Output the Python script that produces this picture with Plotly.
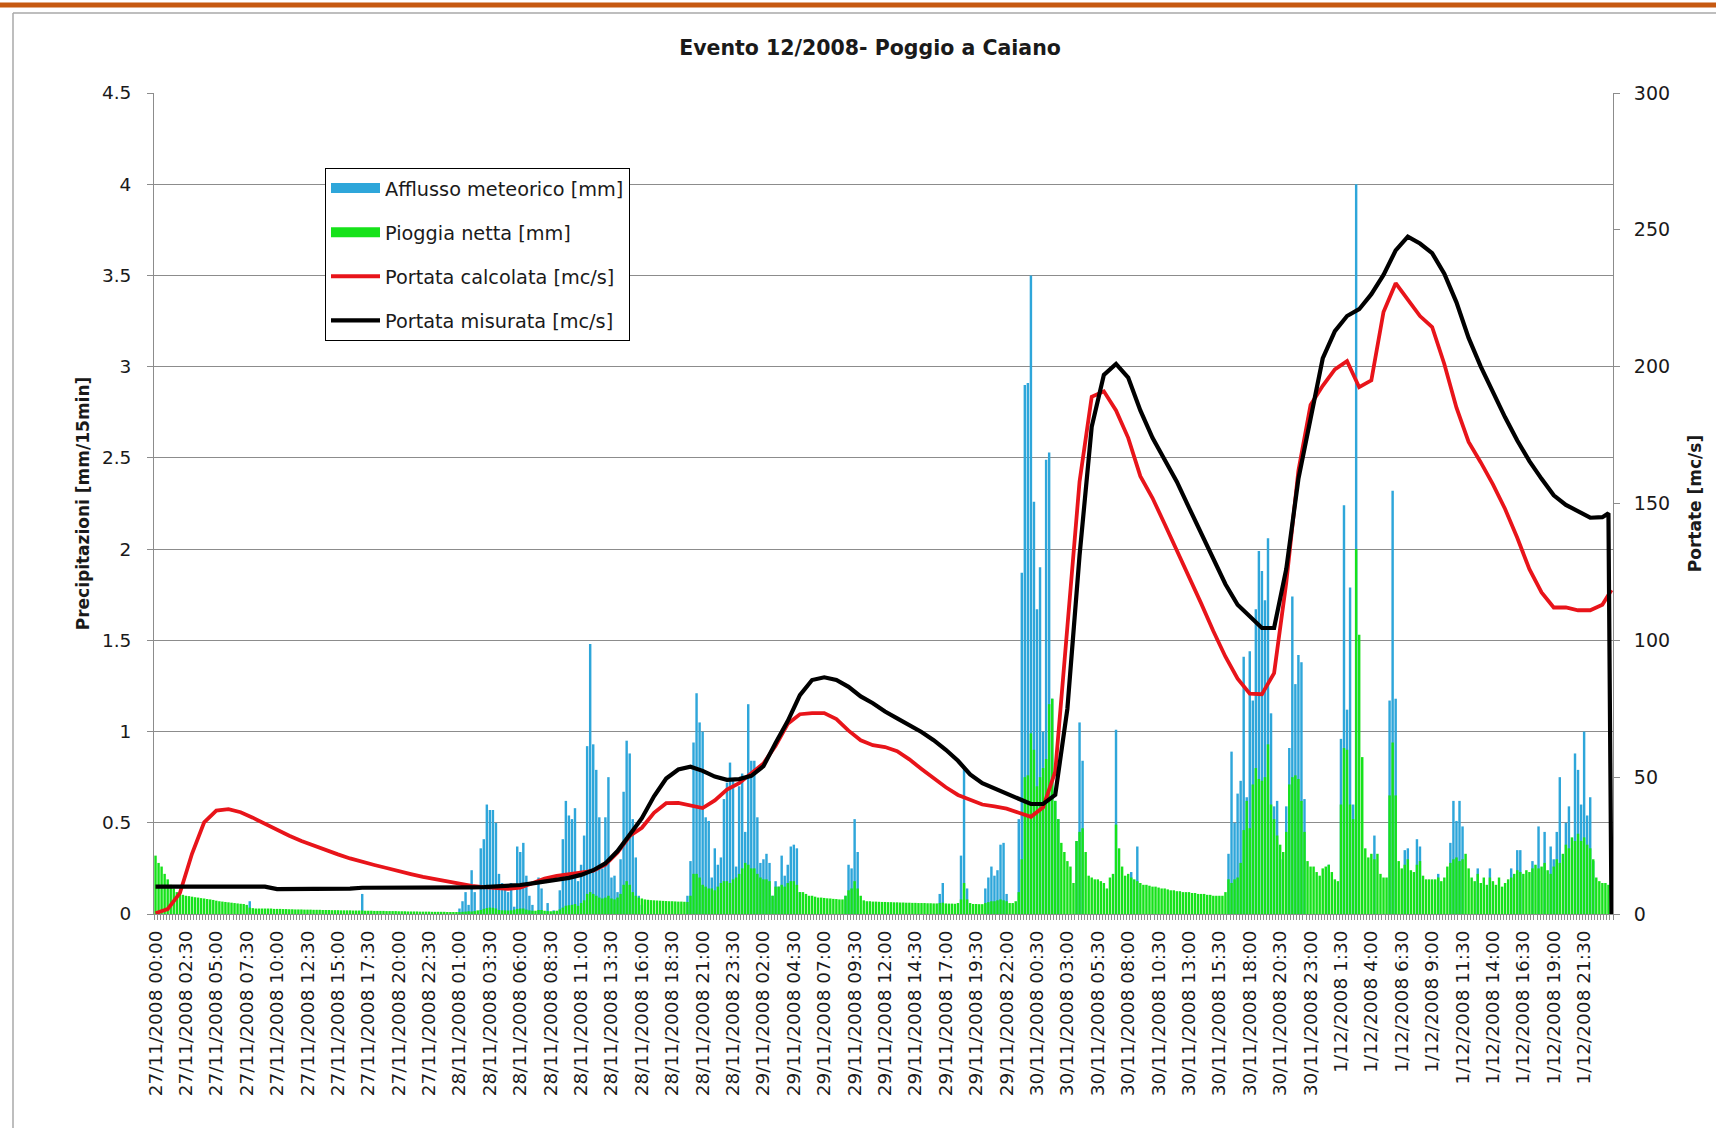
import plotly.graph_objects as go

# ---------------------------------------------------------------------------
# Evento 12/2008 - Poggio a Caiano : 15-minute steps from 27/11/2008 00:00
# to 1/12/2008 23:45 (480 steps)
# ---------------------------------------------------------------------------

# Category labels shown on the time axis (one every 10 steps)
tick_labels = [
    "27/11/2008 00:00", "27/11/2008 02:30", "27/11/2008 05:00", "27/11/2008 07:30",
    "27/11/2008 10:00", "27/11/2008 12:30", "27/11/2008 15:00", "27/11/2008 17:30",
    "27/11/2008 20:00", "27/11/2008 22:30",
    "28/11/2008 01:00", "28/11/2008 03:30", "28/11/2008 06:00", "28/11/2008 08:30",
    "28/11/2008 11:00", "28/11/2008 13:30", "28/11/2008 16:00", "28/11/2008 18:30",
    "28/11/2008 21:00", "28/11/2008 23:30",
    "29/11/2008 02:00", "29/11/2008 04:30", "29/11/2008 07:00", "29/11/2008 09:30",
    "29/11/2008 12:00", "29/11/2008 14:30", "29/11/2008 17:00", "29/11/2008 19:30",
    "29/11/2008 22:00",
    "30/11/2008 00:30", "30/11/2008 03:00", "30/11/2008 05:30", "30/11/2008 08:00",
    "30/11/2008 10:30", "30/11/2008 13:00", "30/11/2008 15:30", "30/11/2008 18:00",
    "30/11/2008 20:30", "30/11/2008 23:00",
    "1/12/2008 1:30", "1/12/2008 4:00", "1/12/2008 6:30", "1/12/2008 9:00",
    "1/12/2008 11:30", "1/12/2008 14:00", "1/12/2008 16:30", "1/12/2008 19:00",
    "1/12/2008 21:30",
]
tick_steps = list(range(0, 480, 10))
steps = list(range(480))

# Afflusso meteorico [mm / 15 min], one row per 10 steps
rain_mm = [
    0, 0, 0, 0, 0, 0, 0, 0, 0, 0,
    0, 0, 0, 0, 0, 0, 0, 0, 0, 0,
    0, 0, 0, 0, 0, 0, 0, 0, 0, 0,
    0, 0.07, 0, 0, 0, 0, 0, 0, 0, 0,
    0, 0, 0, 0, 0, 0, 0, 0, 0, 0,
    0, 0, 0, 0, 0, 0, 0, 0, 0, 0,
    0, 0, 0, 0, 0, 0, 0, 0, 0.11, 0,
    0, 0, 0, 0, 0, 0, 0, 0, 0, 0,
    0, 0, 0, 0, 0, 0, 0, 0, 0, 0,
    0, 0, 0, 0, 0, 0, 0, 0, 0, 0,
    0.03, 0.07, 0.12, 0.05, 0.24, 0.12, 0, 0.36, 0.41, 0.6,
    0.57, 0.57, 0.5, 0.22, 0.17, 0.16, 0.12, 0.17, 0.04, 0.37,
    0.34, 0.39, 0.21, 0.1, 0.05, 0, 0.2, 0.14, 0, 0.06,
    0, 0.02, 0, 0.13, 0.41, 0.62, 0.54, 0.52, 0.58, 0.18,
    0.27, 0.43, 0.92, 1.48, 0.93, 0.79, 0.53, 0.25, 0.53, 0.75,
    0.2, 0.21, 0.12, 0.3, 0.67, 0.95, 0.88, 0.52, 0.31, 0.1,
    0.05, 0, 0, 0, 0, 0, 0, 0, 0, 0,
    0, 0, 0, 0, 0, 0.1, 0.29, 0.94, 1.21, 1.05,
    1.0, 0.53, 0.51, 0.2, 0.36, 0.27, 0.31, 0.63, 0.72, 0.83,
    0.73, 0.26, 0.7, 0.77, 0.45, 1.15, 0.84, 0.84, 0.53, 0.28,
    0.3, 0.33, 0.28, 0.1, 0.18, 0.15, 0.32, 0.21, 0.27, 0.37,
    0.38, 0.36, 0.12, 0, 0, 0, 0, 0, 0, 0,
    0, 0, 0, 0, 0, 0, 0, 0.1, 0.27, 0.25,
    0.52, 0.34, 0, 0, 0, 0, 0, 0, 0, 0,
    0, 0, 0, 0, 0, 0, 0, 0, 0, 0,
    0, 0, 0, 0, 0, 0, 0, 0, 0.11, 0.17,
    0, 0, 0, 0, 0, 0.32, 0.81, 0.14, 0, 0,
    0, 0, 0, 0.14, 0.2, 0.26, 0.21, 0.24, 0.38, 0.39,
    0.11, 0, 0, 0, 0.52, 1.87, 2.9, 2.91, 3.5, 2.26,
    1.67, 1.9, 1.0, 2.49, 2.53, 1.18, 0.62, 0.52, 0, 0,
    0, 0, 0, 0.4, 1.05, 0.84, 0, 0, 0, 0,
    0, 0, 0, 0, 0, 0, 1.01, 0, 0, 0,
    0, 0.23, 0, 0.37, 0, 0, 0, 0, 0, 0,
    0, 0, 0, 0, 0, 0, 0, 0, 0, 0,
    0, 0, 0, 0, 0, 0, 0, 0, 0, 0,
    0, 0, 0, 0.33, 0.89, 0.5, 0.66, 0.73, 1.41, 0.64,
    1.44, 1.17, 1.67, 1.99, 1.88, 1.72, 2.06, 1.1, 0.59, 0.62,
    0.3, 0, 0.59, 0.91, 1.74, 1.26, 1.42, 1.38, 0.63, 0,
    0, 0, 0, 0, 0, 0, 0.27, 0, 0, 0,
    0.96, 2.24, 1.12, 1.79, 0.6, 4.0, 0, 0, 0, 0,
    0, 0.43, 0, 0, 0, 0, 1.17, 2.32, 1.18, 0,
    0, 0.35, 0.36, 0, 0, 0.41, 0.37, 0, 0, 0,
    0, 0, 0.22, 0, 0, 0, 0.39, 0.62, 0.51, 0.62,
    0.48, 0, 0, 0, 0, 0.25, 0, 0, 0, 0.25,
    0, 0, 0, 0, 0, 0, 0.25, 0, 0.35, 0.35,
    0, 0, 0, 0.29, 0, 0.48, 0, 0.45, 0, 0.37,
    0.3, 0.45, 0.75, 0, 0.5, 0.59, 0, 0.88, 0.79, 0.6,
    1.0, 0.54, 0.64, 0.29, 0, 0, 0, 0, 0, 0,
]

# Pioggia netta [mm / 15 min], one row per 10 steps
net_rain_mm = [
    0.32, 0.28, 0.26, 0.22, 0.19, 0.16, 0.14, 0.12, 0.11, 0.105,
    0.1, 0.098, 0.095, 0.092, 0.09, 0.087, 0.085, 0.082, 0.08, 0.077,
    0.073, 0.07, 0.068, 0.066, 0.064, 0.062, 0.06, 0.058, 0.056, 0.055,
    0.05, 0.035, 0.032, 0.03, 0.03, 0.03, 0.03, 0.03, 0.03, 0.028,
    0.028, 0.028, 0.027, 0.027, 0.026, 0.026, 0.025, 0.025, 0.025, 0.024,
    0.024, 0.024, 0.023, 0.023, 0.023, 0.022, 0.022, 0.022, 0.021, 0.021,
    0.021, 0.02, 0.02, 0.02, 0.02, 0.019, 0.019, 0.019, 0.019, 0.018,
    0.018, 0.018, 0.017, 0.017, 0.017, 0.017, 0.016, 0.016, 0.016, 0.016,
    0.015, 0.015, 0.015, 0.014, 0.014, 0.014, 0.014, 0.013, 0.013, 0.013,
    0.013, 0.012, 0.012, 0.012, 0.012, 0.012, 0.011, 0.011, 0.011, 0.011,
    0.011, 0.012, 0.013, 0.015, 0.014, 0.016, 0.02, 0.022, 0.028, 0.032,
    0.035, 0.034, 0.03, 0.022, 0.02, 0.02, 0.019, 0.02, 0.024, 0.028,
    0.03, 0.03, 0.024, 0.02, 0.018, 0.018, 0.022, 0.022, 0.018, 0.016,
    0.015, 0.016, 0.018, 0.025, 0.035, 0.045, 0.048, 0.05, 0.055, 0.045,
    0.06, 0.075, 0.11, 0.12, 0.11, 0.1, 0.09, 0.085, 0.09, 0.1,
    0.085, 0.08, 0.09, 0.11, 0.16, 0.18, 0.16, 0.12, 0.1, 0.09,
    0.085, 0.08, 0.078, 0.076, 0.075, 0.074, 0.073, 0.072, 0.071, 0.07,
    0.07, 0.069, 0.068, 0.068, 0.067, 0.066, 0.1, 0.22, 0.22, 0.2,
    0.16, 0.15, 0.14, 0.14, 0.13, 0.15, 0.17, 0.18, 0.18, 0.17,
    0.19, 0.2, 0.22, 0.25, 0.28, 0.27, 0.25, 0.25, 0.22, 0.2,
    0.19, 0.19, 0.18, 0.1, 0.15, 0.15, 0.16, 0.15, 0.17, 0.18,
    0.18, 0.16, 0.12, 0.12, 0.11, 0.1, 0.1, 0.095, 0.09, 0.09,
    0.088, 0.086, 0.085, 0.083, 0.082, 0.08, 0.08, 0.1, 0.13, 0.14,
    0.18, 0.14, 0.1, 0.075, 0.07, 0.07, 0.068, 0.068, 0.067, 0.066,
    0.066, 0.065, 0.065, 0.064, 0.064, 0.063, 0.063, 0.062, 0.062, 0.061,
    0.061, 0.06, 0.06, 0.06, 0.059, 0.059, 0.058, 0.058, 0.06, 0.062,
    0.058, 0.057, 0.057, 0.056, 0.06, 0.08, 0.17, 0.08, 0.06, 0.055,
    0.055, 0.054, 0.054, 0.06, 0.065, 0.07, 0.07, 0.075, 0.08, 0.075,
    0.07, 0.06, 0.06, 0.07, 0.12, 0.3, 0.75, 0.76, 0.99, 0.9,
    0.7, 0.75, 0.8, 0.85, 1.15, 1.18, 0.62, 0.52, 0.39, 0.34,
    0.29, 0.26, 0.17, 0.4, 0.45, 0.47, 0.34, 0.21, 0.2, 0.19,
    0.19, 0.18, 0.17, 0.14, 0.2, 0.22, 0.49, 0.36, 0.26, 0.21,
    0.22, 0.2, 0.19, 0.18, 0.17, 0.16, 0.16, 0.155, 0.15, 0.15,
    0.145, 0.14, 0.14, 0.135, 0.13, 0.13, 0.125, 0.125, 0.12, 0.12,
    0.12, 0.115, 0.115, 0.11, 0.11, 0.11, 0.105, 0.105, 0.1, 0.1,
    0.1, 0.1, 0.12, 0.19, 0.17, 0.19, 0.2, 0.28, 0.46, 0.62,
    0.47, 0.71, 0.8, 0.74, 0.73, 0.75, 0.93, 0.6, 0.52, 0.43,
    0.38, 0.34, 0.45, 0.71, 0.75, 0.76, 0.74, 0.62, 0.45, 0.29,
    0.26, 0.26, 0.23, 0.21, 0.25, 0.26, 0.27, 0.23, 0.19, 0.18,
    0.6, 0.91, 0.9, 0.6, 0.52, 2.0, 1.53, 0.86, 0.36, 0.31,
    0.33, 0.3, 0.33, 0.22, 0.2, 0.2, 0.65, 0.94, 0.65, 0.29,
    0.25, 0.27, 0.3, 0.24, 0.23, 0.27, 0.29, 0.21, 0.19, 0.19,
    0.19, 0.19, 0.2, 0.18, 0.2, 0.26, 0.28, 0.3, 0.31, 0.29,
    0.3, 0.33, 0.25, 0.2, 0.18, 0.22, 0.17, 0.2, 0.16, 0.2,
    0.18, 0.16, 0.2, 0.15, 0.17, 0.19, 0.2, 0.22, 0.24, 0.23,
    0.22, 0.24, 0.23, 0.25, 0.27, 0.25, 0.26, 0.28, 0.24, 0.22,
    0.26, 0.3, 0.28, 0.33, 0.38, 0.36, 0.42, 0.4, 0.44, 0.4,
    0.42, 0.38, 0.36, 0.3, 0.2, 0.18, 0.17, 0.17, 0.16, 0.15,
]

# Discharge readings [mc/s], hourly (every 4 steps) plus the last two steps
flow_steps = list(range(0, 480, 4)) + [478, 479]

flow_calc = [
    0.3, 1.8, 7.6, 22, 33.5, 37.8, 38.3, 37.2, 35.2, 33,
    30.6, 28.6, 26.7, 25, 23.3, 21.8, 20.3, 19, 17.9, 16.8,
    15.6, 14.6, 13.6, 12.7, 11.9, 11, 10.3, 9.8, 9.4, 9.2,
    9.6, 11.2, 12.9, 13.9, 14.5, 15, 15.8, 18, 22.5, 28.5,
    31.5, 37, 40.5, 40.6, 39.8, 38.7, 41.5, 45.5, 47.8, 51.3,
    55, 61.5, 69.5, 73, 73.4, 73.4, 71.2, 67, 63.5, 61.7,
    61, 59.5, 56.5, 53, 49.5, 46.3, 43.5, 41.8, 40, 39.3,
    38.5, 37, 35.5, 39, 52, 105, 158, 189, 191, 184,
    174, 160, 152, 142.5, 133, 123, 113.5, 103.4, 94, 86,
    80.5, 80.3, 88, 121, 162, 186, 193, 199, 202, 192.5,
    195, 220, 230.5, 224.5, 218.5, 214.5, 201, 185, 172.5, 165,
    157, 148, 137.5, 126, 117.5, 112, 112, 111, 111, 113,
    116.5, 118.4,
]

flow_meas = [
    10, 10, 10, 10, 10, 10, 10, 10, 10, 10,
    9.1, 9.1, 9.1, 9.1, 9.1, 9.2, 9.3, 9.6, 9.6, 9.7,
    9.6, 9.5, 9.4, 9.4, 9.5, 9.6, 9.7, 9.8, 10, 10.2,
    10.6, 11.2, 11.9, 12.5, 13.2, 14.3, 16, 18.5, 23, 29,
    35, 43, 49.5, 52.8, 53.8, 52.3, 50.2, 49, 49.3, 50.5,
    54, 62.5, 70.5, 80, 85.5, 86.5, 85.5, 83, 79.5, 77,
    74, 71.5, 69.2, 66.5, 63.5, 60, 56, 51, 47.8, 45.8,
    44, 42, 40.2, 40.2, 43.5, 75, 131, 178, 197, 201,
    196, 184, 174, 166, 158, 148.5, 139, 130.3, 120.5, 113,
    108.5, 104.5, 104.5, 126, 159, 181, 203, 213, 218.5, 221,
    226.5, 233.5, 242.5, 247.5, 245, 241.5, 234, 223.5, 210.5, 200,
    190.6, 181.5, 173, 165.5, 159, 153, 149.5, 147, 144.8, 145,
    146.4, 0,
]

# ---------------------------------------------------------------------------
FONT = "DejaVu Sans"
TXT = "#1a1a1a"
GRID = "#8c8c8c"
BLUE = "#2ea6da"
GREEN = "#16e21a"

W, H = 1716, 1128
L, R, T, B = 154, 103, 93, 214
PW, PH = W - L - R, H - T - B


def px(x):
    """figure pixel column -> paper x"""
    return (x - L) / PW


def py(y):
    """figure pixel row -> paper y"""
    return (H - B - y) / PH


fig = go.Figure()

# rainfall bars (net rain drawn over gross rain)
fig.add_trace(go.Bar(
    x=steps, y=rain_mm, name="Afflusso meteorico [mm]",
    marker=dict(color=BLUE, line=dict(width=0)), width=0.8,
    legendgroup="a", showlegend=False,
))
fig.add_trace(go.Bar(
    x=steps, y=net_rain_mm, name="Pioggia netta [mm]",
    marker=dict(color=GREEN, line=dict(width=0)), width=0.8,
    legendgroup="b", showlegend=False,
))
# wide flat legend keys for the two bar series
fig.add_trace(go.Scatter(
    x=[None], y=[None], name="Afflusso meteorico [mm]", mode="lines",
    line=dict(color=BLUE, width=10), legendgroup="a",
))
fig.add_trace(go.Scatter(
    x=[None], y=[None], name="Pioggia netta [mm]", mode="lines",
    line=dict(color=GREEN, width=10), legendgroup="b",
))
# discharge lines on the right axis
fig.add_trace(go.Scatter(
    x=flow_steps, y=flow_calc, name="Portata calcolata [mc/s]", yaxis="y2",
    mode="lines", line=dict(color="#e8141a", width=3.8),
    legendgroup="c",
))
fig.add_trace(go.Scatter(
    x=flow_steps, y=flow_meas, name="Portata misurata [mc/s]", yaxis="y2",
    mode="lines", line=dict(color="#000000", width=4.2),
    legendgroup="d",
))

fig.update_layout(
    width=W, height=H,
    margin=dict(l=L, r=R, t=T, b=B),
    paper_bgcolor="white", plot_bgcolor="white",
    barmode="overlay",
    font=dict(family=FONT, color=TXT, size=18),
    title=dict(
        text="<b>Evento 12/2008- Poggio a Caiano</b>",
        x=870 / W, xanchor="center", xref="container",
        y=1 - 48 / H, yanchor="middle", yref="container",
        font=dict(family=FONT, size=20.5, color=TXT),
    ),
    xaxis=dict(
        range=[-0.5, 479.5],
        tickmode="array", tickvals=tick_steps, ticktext=tick_labels,
        tickangle=-90, tickfont=dict(family=FONT, size=18.5, color=TXT),
        ticks="", ticklabelstandoff=8,
        showgrid=False, zeroline=False,
        showline=True, linecolor=GRID, linewidth=1,
        minor=dict(tickmode="linear", tick0=-0.5, dtick=1, ticks="outside",
                   ticklen=5, tickcolor=GRID, tickwidth=1, showgrid=False),
    ),
    yaxis=dict(
        range=[0, 4.5], dtick=0.5, tick0=0,
        showgrid=True, gridcolor=GRID, gridwidth=1,
        zeroline=False, showline=True, linecolor=GRID, linewidth=1,
        ticks="outside", ticklen=6, tickcolor=GRID, ticklabelstandoff=12,
        tickfont=dict(family=FONT, size=18.5, color=TXT),
        title=dict(text="<b>Precipitazioni [mm/15min]</b>",
                   font=dict(family=FONT, size=17, color=TXT), standoff=7),
    ),
    yaxis2=dict(
        range=[0, 300], dtick=50, tick0=0, overlaying="y", side="right",
        showgrid=False, zeroline=False,
        showline=True, linecolor=GRID, linewidth=1,
        ticks="outside", ticklen=6, tickcolor=GRID, ticklabelstandoff=10,
        tickfont=dict(family=FONT, size=19, color=TXT),
        title=dict(text="<b>Portate [mc/s]</b>",
                   font=dict(family=FONT, size=17, color=TXT), standoff=20),
    ),
    legend=dict(
        x=px(325), y=py(168), xanchor="left", yanchor="top",
        bgcolor="white", bordercolor="black", borderwidth=1,
        font=dict(family=FONT, size=19.3, color=TXT),
        tracegroupgap=16, itemwidth=49,
    ),
    shapes=[
        # orange band along the top of the page
        dict(type="rect", xref="paper", yref="paper",
             x0=px(0), x1=px(W), y0=py(7.5), y1=py(2.5),
             fillcolor="#c65911", line=dict(width=0), layer="above"),
        # chart frame
        dict(type="line", xref="paper", yref="paper",
             x0=px(13), x1=px(W), y0=py(13), y1=py(13),
             line=dict(color="#a8a8a8", width=1.5)),
        dict(type="line", xref="paper", yref="paper",
             x0=px(13), x1=px(13), y0=py(13), y1=py(H),
             line=dict(color="#a8a8a8", width=1.5)),
    ],
)

fig.write_html("out.html")
